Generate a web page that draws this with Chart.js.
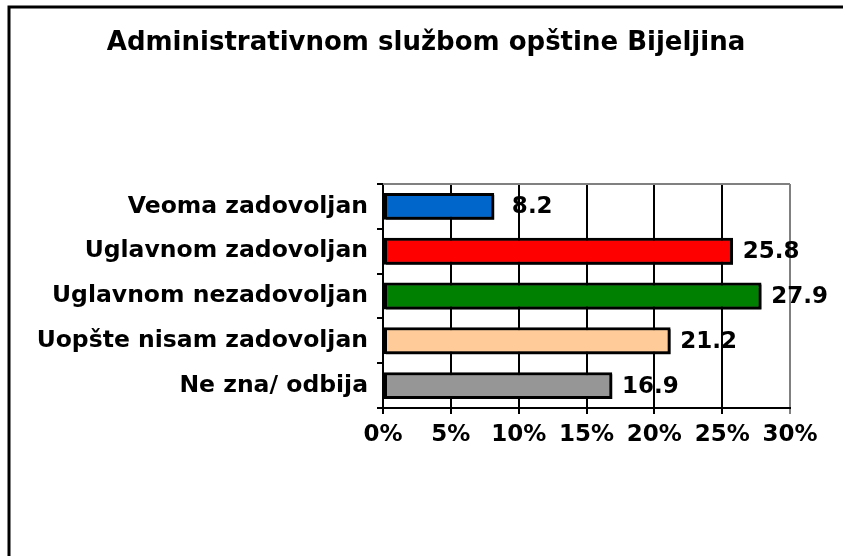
<!DOCTYPE html>
<html>
<head>
<meta charset="utf-8">
<script src="https://cdn.jsdelivr.net/npm/chart.js@4"></script>
<style>
  html, body { margin:0; padding:0; background:#fff; }
  #wrap { width:843px; height:556px; position:relative; }
</style>
</head>
<body>
<div id="wrap"><canvas id="chartSluzba" width="843" height="556"></canvas></div>
<script>
const titleText = "Administrativnom službom opštine Bijeljina";
const categories = ["Veoma zadovoljan", "Uglavnom zadovoljan", "Uglavnom nezadovoljan", "Uopšte nisam zadovoljan", "Ne zna/ odbija"];
const values = [8.2, 25.8, 27.9, 21.2, 16.9];
const barColors = ["#0066CC", "#FF0000", "#008000", "#FFCC99", "#969696"];
const xTicks = [0, 5, 10, 15, 20, 25, 30];

const FONT = "'DejaVu Sans', Verdana, sans-serif";

// thin black frame on top and left, like the cropped original
const framePlugin = {
  id: "frame",
  afterDraw(c){
    const ctx = c.ctx;
    ctx.save();
    ctx.strokeStyle = "#000";
    ctx.lineWidth = 3;
    ctx.beginPath();
    ctx.moveTo(9, 556);
    ctx.lineTo(9, 7);
    ctx.lineTo(843, 7);
    ctx.stroke();
    ctx.restore();
  }
};

// title is centred on the whole picture, not on the plot
const titlePlugin = {
  id: "centerTitle",
  afterDraw(c){
    const ctx = c.ctx;
    ctx.save();
    ctx.fillStyle = "#000";
    ctx.font = "bold 26px " + FONT;
    ctx.textAlign = "center";
    ctx.textBaseline = "alphabetic";
    ctx.fillText(titleText, 426, 50);
    ctx.restore();
  }
};

// gray top border of the plot area
const plotTopPlugin = {
  id: "plotTop",
  beforeDatasetsDraw(c){
    const a = c.chartArea, ctx = c.ctx;
    ctx.save();
    ctx.strokeStyle = "#808080";
    ctx.lineWidth = 2;
    ctx.beginPath();
    ctx.moveTo(a.left, a.top);
    ctx.lineTo(a.right, a.top);
    ctx.stroke();
    ctx.restore();
  }
};

const shadowPlugin = {
  id: "barShadow",
  beforeDatasetDraw(c){
    const ctx = c.ctx;
    ctx.save();
    ctx.shadowColor = "rgba(0,0,0,0.75)";
    ctx.shadowOffsetX = 2;
    ctx.shadowOffsetY = 2;
    ctx.shadowBlur = 0;
  },
  afterDatasetDraw(c){
    c.ctx.restore();
  }
};

const valueLabels = {
  id: "valueLabels",
  afterDatasetsDraw(c){
    const ctx = c.ctx;
    const meta = c.getDatasetMeta(0);
    ctx.save();
    ctx.fillStyle = "#000";
    ctx.font = "bold 23px " + FONT;
    ctx.textAlign = "center";
    ctx.textBaseline = "middle";
    meta.data.forEach((bar, i) => {
      ctx.fillText(values[i].toFixed(1), bar.x + 38, bar.y + 1);
    });
    ctx.restore();
  }
};

const ctx = document.getElementById("chartSluzba");
new Chart(ctx, {
  type: "bar",
  data: {
    labels: categories,
    datasets: [{
      data: values,
      backgroundColor: barColors,
      borderColor: "#000",
      borderWidth: 3,
      borderSkipped: false,
      categoryPercentage: 1,
      barPercentage: 0.6
    }]
  },
  options: {
    indexAxis: "y",
    responsive: false,
    animation: false,
    devicePixelRatio: 1,
    layout: { padding: { left: 0, right: 53, top: 184, bottom: 0 } },
    plugins: {
      legend: { display: false },
      tooltip: { enabled: false },
      title: { display: false }
    },
    scales: {
      x: {
        min: 0, max: 30,
        afterBuildTicks(s){ s.ticks = xTicks.map(v => ({ value: v })); },
        afterFit(s){ s.height = 148; },
        ticks: {
          color: "#000",
          font: { family: FONT, size: 23, weight: "bold" },
          padding: 7,
          maxRotation: 0,
          autoSkip: false,
          callback: v => v + "%"
        },
        grid: {
          color: ctx => ctx.tick && ctx.tick.value === 30 ? "#808080" : "#000",
          lineWidth: 2,
          tickLength: 6
        },
        border: { color: "#000", width: 2 }
      },
      y: {
        afterFit(s){ s.width = 383; },
        ticks: {
          color: "#000",
          font: { family: FONT, size: 23.5, weight: "bold" },
          padding: 9
        },
        grid: {
          drawOnChartArea: false,
          color: "#000",
          lineWidth: 2,
          tickLength: 6,
          offset: true
        },
        border: { color: "#000", width: 2 }
      }
    }
  },
  plugins: [framePlugin, titlePlugin, plotTopPlugin, shadowPlugin, valueLabels]
});
</script>
</body>
</html>
